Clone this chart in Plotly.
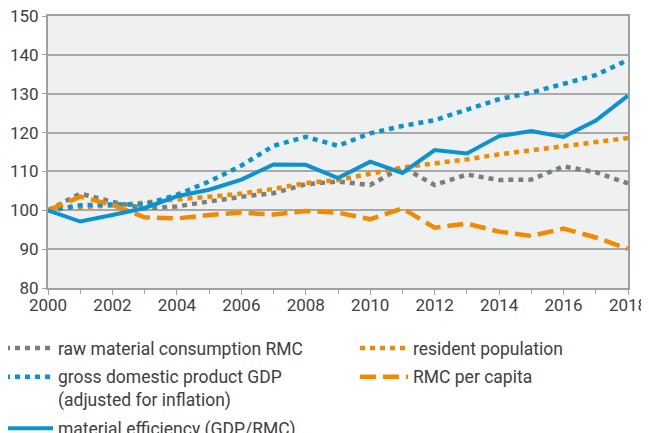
import plotly.graph_objects as go

years = list(range(2000, 2019))

rmc = [100, 104.3, 102.2, 100.5, 101.0, 102.2, 103.5, 104.4, 106.7, 107.4,
       106.5, 111.1, 106.5, 109.2, 107.8, 107.9, 111.3, 109.8, 106.9]
population = [100, 100.8, 101.2, 102.1, 102.8, 103.5, 104.3, 105.5, 107.0, 107.8,
              109.3, 111.0, 112.1, 113.1, 114.4, 115.5, 116.5, 117.6, 118.6]
gdp = [100, 101.3, 101.5, 101.5, 104.0, 107.4, 111.5, 116.6, 118.9, 116.6,
       119.8, 121.7, 123.2, 125.8, 128.6, 130.3, 132.7, 134.8, 138.7]
rmc_per_capita = [100, 103.5, 101.4, 98.2, 97.9, 98.8, 99.4, 98.9, 99.8, 99.4,
                  97.7, 100.5, 95.5, 96.6, 94.5, 93.4, 95.3, 93.0, 90.1]
efficiency = [100, 97.1, 98.8, 100.6, 103.6, 105.3, 107.9, 111.8, 111.7, 108.3,
              112.5, 109.6, 115.5, 114.6, 119.1, 120.4, 118.9, 123.1, 129.5]

BLUE = "#0a92d2"
ORANGE = "#f08a00"
GREY = "#7d7d7d"

fig = go.Figure()
fig.add_trace(go.Scatter(x=years, y=rmc, mode="lines", name="raw material consumption RMC",
                         legend="legend", legendgroup="a",
                         line=dict(color=GREY, width=4.5, dash="5px,5px")))
fig.add_trace(go.Scatter(x=years, y=population, mode="lines", name="resident population",
                         legend="legend2", legendgroup="b",
                         line=dict(color=ORANGE, width=4.5, dash="5px,5px")))
fig.add_trace(go.Scatter(x=years, y=gdp, mode="lines",
                         name="gross domestic product GDP<br>(adjusted for inflation)",
                         legend="legend", legendgroup="c",
                         line=dict(color=BLUE, width=4.5, dash="5px,5px")))
fig.add_trace(go.Scatter(x=years, y=rmc_per_capita, mode="lines", name="RMC per capita",
                         legend="legend2", legendgroup="d",
                         line=dict(color=ORANGE, width=4.5, dash="16px,7px")))
fig.add_trace(go.Scatter(x=years, y=efficiency, mode="lines",
                         name="material efficiency (GDP/RMC)",
                         legend="legend", legendgroup="e",
                         line=dict(color=BLUE, width=4)))

# page body adds an 8px offset, so the figure is 8px smaller than the window
leg = dict(orientation="v", yanchor="top", xanchor="left", y=(280 - 322) / 272,
           itemwidth=48, traceorder="grouped", tracegroupgap=3, valign="top",
           font=dict(size=17.5), borderwidth=0, bgcolor="rgba(0,0,0,0)")

fig.update_layout(
    width=641, height=425,
    margin=dict(l=40, r=21, t=8, b=145, autoexpand=False),
    plot_bgcolor="#eff0f0",
    paper_bgcolor="white",
    font=dict(family="Roboto", size=17, color="#404040"),
    showlegend=True,
    legend=dict(leg, x=(-8 - 40) / 580),
    legend2=dict(leg, x=(347 - 40) / 580),
)
fig.update_xaxes(range=[2000, 2018], tickvals=list(range(2000, 2019, 2)),
                 ticks="outside", ticklen=5, tickcolor="#a0a0a0",
                 ticklabelstandoff=-4, ticklabeloverflow="allow",
                 minor=dict(tickvals=list(range(2001, 2018, 2)), ticks="outside",
                            ticklen=4, tickcolor="#a0a0a0"),
                 showgrid=False, showline=True, linecolor="#a0a0a0", linewidth=2,
                 mirror=True, zeroline=False)
fig.update_yaxes(range=[80, 150], dtick=10, showgrid=True, gridcolor="#a8a8a8",
                 gridwidth=1.5, showline=True, linecolor="#a0a0a0", linewidth=2,
                 mirror=True, ticks="outside", ticklen=4, tickcolor="#a0a0a0",
                 ticklabeloverflow="allow", zeroline=False)

fig.write_html("out.html")
